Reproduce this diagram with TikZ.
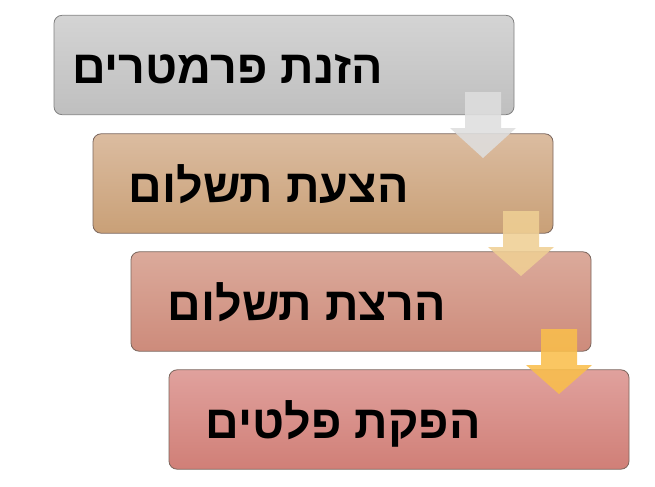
\documentclass[tikz,border=0pt]{standalone}
\usepackage{fontspec}
\usepackage{xcolor}
\TeXXeTstate=1
\newfontfamily\hebfont[Script=Hebrew]{Liberation Sans}

\definecolor{grayTop}{HTML}{D4D4D4}
\definecolor{grayBot}{HTML}{BFBFBF}
\definecolor{tanTop}{HTML}{DBBCA0}
\definecolor{tanBot}{HTML}{C9A077}
\definecolor{roseTop}{HTML}{DBAA9B}
\definecolor{roseBot}{HTML}{CD8B7B}
\definecolor{redTop}{HTML}{E0A19D}
\definecolor{redBot}{HTML}{D07F77}
\definecolor{edge}{HTML}{7A655C}
\definecolor{arrowA}{HTML}{DEDEDE}
\definecolor{arrowB}{HTML}{EFCF94}
\definecolor{arrowC}{HTML}{F9BE4C}

\tikzset{
  stepbox/.style={draw=edge, line width=0.6pt, rounded corners=6pt,
    minimum width=345pt, minimum height=74.5pt, inner sep=0pt},
  steplabel/.style={anchor=base east, inner sep=0pt,
    font=\hebfont\bfseries\fontsize{35}{38}\selectfont},
  flowarrow/.style={fill opacity=0.88, draw=none}
}

\begin{document}
\begin{tikzpicture}[x=0.75pt, y=-0.75pt]
            \useasboundingbox (0,0) rectangle (655,486);

            \node [stepbox, top color=grayTop, bottom color=grayBot, draw=gray] (zn) at (284,65) {};
            \node [stepbox, top color=tanTop, bottom color=tanBot] (hs) at (323,183.5) {};
            \node [stepbox, top color=roseTop, bottom color=roseBot] (rs) at (361,301.5) {};
            \node [stepbox, top color=redTop, bottom color=redBot] (hp) at (399,419.5) {};

            \node [steplabel] (znlabel) at (383,83) {\beginR הזנת פרמטרים\endR};
            \node [steplabel] (hslabel) at (409,202) {\beginR הצעת תשלום\endR};
            \node [steplabel] (rslabel) at (446,320) {\beginR הרצת תשלום\endR};
            \node [steplabel] (hplabel) at (481,438) {\beginR הפקת פלטים\endR};

            % block arrows between the steps
            \fill [flowarrow, arrowA] (465,92) -- (501,92) -- (501,128) -- (516,128) -- (483,158) -- (450,128) -- (465,128) -- cycle;
            \fill [flowarrow, arrowB] (503,211) -- (539,211) -- (539,247) -- (554,247) -- (521,276) -- (488,247) -- (503,247) -- cycle;
            \fill [flowarrow, arrowC] (541,329) -- (577,329) -- (577,365) -- (592,365) -- (559,394) -- (526,365) -- (541,365) -- cycle;

        \end{tikzpicture}
\end{document}
